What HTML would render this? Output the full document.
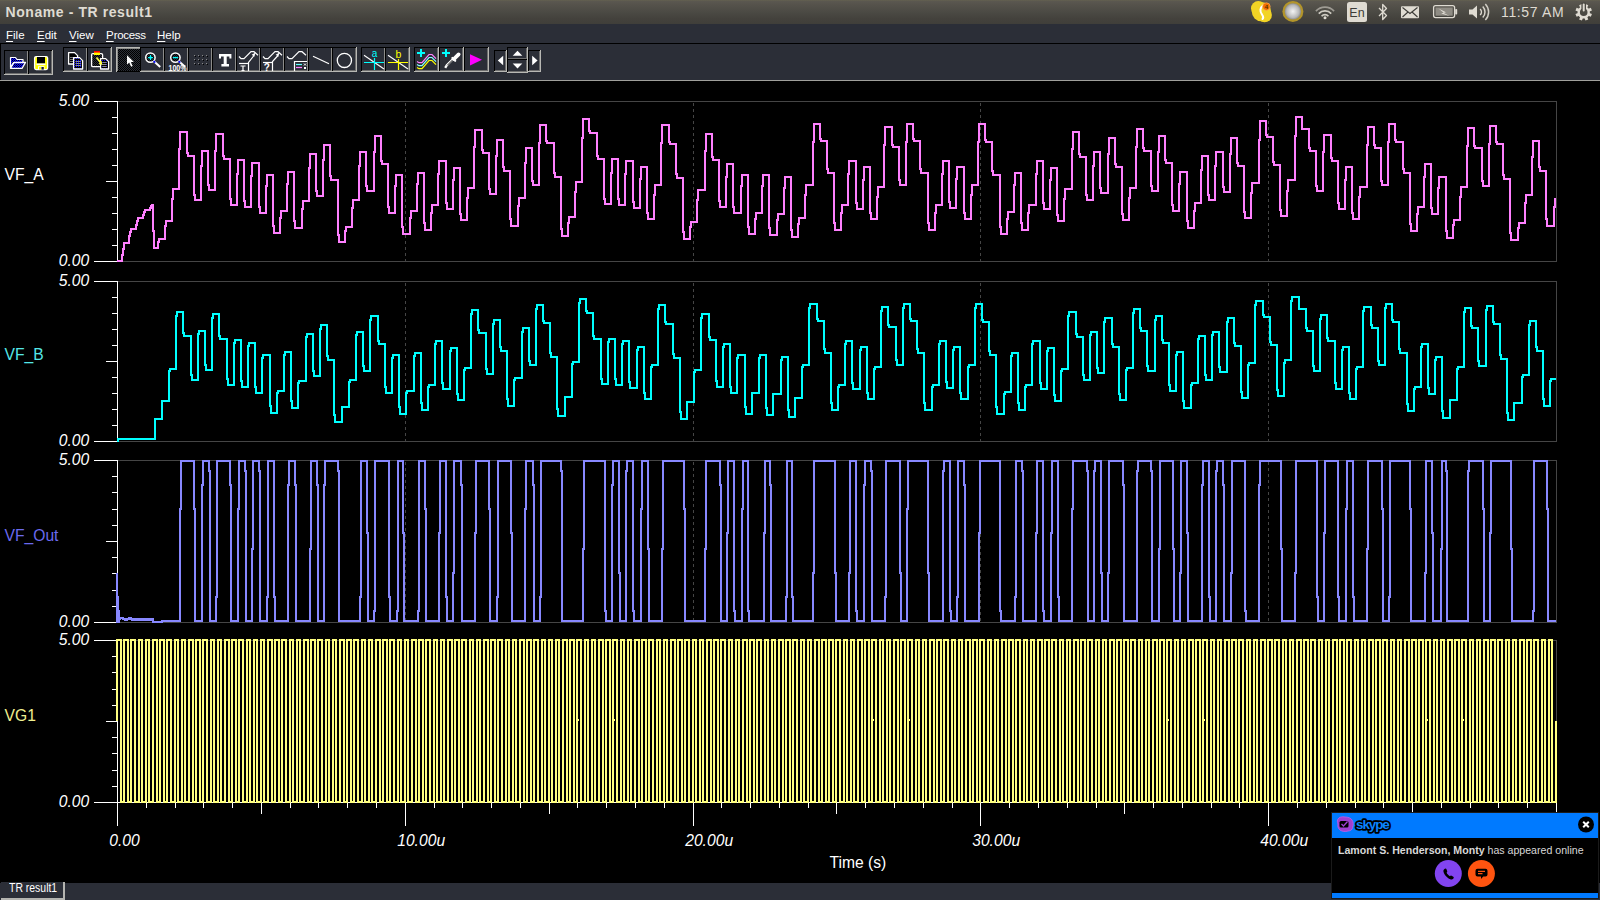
<!DOCTYPE html><html><head><meta charset="utf-8"><title>Noname - TR result1</title><style>
html,body{margin:0;padding:0;background:#000;}
body{width:1600px;height:900px;overflow:hidden;position:relative;font-family:"Liberation Sans",sans-serif;}
.abs{position:absolute;}
#title{left:0;top:0;width:1600px;height:24px;background:linear-gradient(#66634f 0,#5b5850 1px,#55524b 5px,#4b4a44 12px,#43413c 19px,#403f3a 24px);}
#ttext{left:5.5px;top:3.4px;font-weight:bold;font-size:14px;color:#dfdbd2;white-space:nowrap;line-height:18px;letter-spacing:0.58px;}
#clock{left:1501px;top:3px;font-size:14px;color:#dfdbd2;white-space:nowrap;line-height:18px;letter-spacing:0.65px;}
#menu{left:0;top:24px;width:1600px;height:19px;background:#2b2e37;}
.mi{position:absolute;top:5px;font-size:11.5px;line-height:12px;color:#fff;white-space:nowrap;}
.mi u{text-decoration:underline;text-decoration-thickness:1px;text-underline-offset:1.5px;}
#tbar{left:0;top:43px;width:1600px;height:38px;background:#2b2e37;border-top:1px solid #000;box-sizing:border-box;border-bottom:1px solid #a0a09c;}
#status{left:0;top:883px;width:1600px;height:17px;background:#2b2e37;}
#tab{left:1px;top:882px;width:62px;height:16px;background:#2b2e37;border-right:2px solid #b4b4b0;border-bottom:2px solid #b4b4b0;}
#tabt{left:9px;top:882px;font-size:12px;line-height:13px;color:#fff;white-space:nowrap;transform:scaleX(0.87);transform-origin:0 0;}
#sk{left:1331px;top:812px;width:268px;height:87px;background:#000;border:1px solid #1a1a1a;box-sizing:border-box;}
#skh{left:1332px;top:813px;width:266px;height:25px;background:#007aff;}
#skb{left:1332px;top:893px;width:266px;height:5px;background:#007aff;}
#skt{left:1338px;top:843px;font-size:10.6px;line-height:14px;color:#d8d8d8;white-space:nowrap;}
</style></head><body><svg id="plot" width="1600" height="900" viewBox="0 0 1600 900" style="position:absolute;left:0;top:0" shape-rendering="crispEdges"><g><rect x="118" y="101" width="1439" height="1" fill="#454545"/><rect x="118" y="261" width="1439" height="1" fill="#454545"/><rect x="1556" y="101" width="1" height="161" fill="#454545"/><line x1="405.5" y1="103" x2="405.5" y2="261" stroke="#454545" stroke-width="1" stroke-dasharray="3 3"/><line x1="693.5" y1="103" x2="693.5" y2="261" stroke="#454545" stroke-width="1" stroke-dasharray="3 3"/><line x1="980.5" y1="103" x2="980.5" y2="261" stroke="#454545" stroke-width="1" stroke-dasharray="3 3"/><line x1="1268.5" y1="103" x2="1268.5" y2="261" stroke="#454545" stroke-width="1" stroke-dasharray="3 3"/><rect x="118" y="281" width="1439" height="1" fill="#454545"/><rect x="118" y="441" width="1439" height="1" fill="#454545"/><rect x="1556" y="281" width="1" height="161" fill="#454545"/><line x1="405.5" y1="283" x2="405.5" y2="441" stroke="#454545" stroke-width="1" stroke-dasharray="3 3"/><line x1="693.5" y1="283" x2="693.5" y2="441" stroke="#454545" stroke-width="1" stroke-dasharray="3 3"/><line x1="980.5" y1="283" x2="980.5" y2="441" stroke="#454545" stroke-width="1" stroke-dasharray="3 3"/><line x1="1268.5" y1="283" x2="1268.5" y2="441" stroke="#454545" stroke-width="1" stroke-dasharray="3 3"/><rect x="118" y="460" width="1439" height="1" fill="#454545"/><rect x="118" y="622" width="1439" height="1" fill="#454545"/><rect x="1556" y="460" width="1" height="163" fill="#454545"/><line x1="405.5" y1="462" x2="405.5" y2="622" stroke="#454545" stroke-width="1" stroke-dasharray="3 3"/><line x1="693.5" y1="462" x2="693.5" y2="622" stroke="#454545" stroke-width="1" stroke-dasharray="3 3"/><line x1="980.5" y1="462" x2="980.5" y2="622" stroke="#454545" stroke-width="1" stroke-dasharray="3 3"/><line x1="1268.5" y1="462" x2="1268.5" y2="622" stroke="#454545" stroke-width="1" stroke-dasharray="3 3"/><rect x="118" y="640" width="1439" height="1" fill="#454545"/><rect x="118" y="802" width="1439" height="1" fill="#454545"/><rect x="1556" y="640" width="1" height="163" fill="#454545"/><line x1="405.5" y1="642" x2="405.5" y2="802" stroke="#454545" stroke-width="1" stroke-dasharray="3 3"/><line x1="693.5" y1="642" x2="693.5" y2="802" stroke="#454545" stroke-width="1" stroke-dasharray="3 3"/><line x1="980.5" y1="642" x2="980.5" y2="802" stroke="#454545" stroke-width="1" stroke-dasharray="3 3"/><line x1="1268.5" y1="642" x2="1268.5" y2="802" stroke="#454545" stroke-width="1" stroke-dasharray="3 3"/><rect x="117" y="101" width="1" height="161" fill="#fff"/><rect x="94" y="101" width="23" height="1" fill="#fff"/><rect x="112" y="117" width="5" height="1" fill="#fff"/><rect x="112" y="133" width="5" height="1" fill="#fff"/><rect x="112" y="149" width="5" height="1" fill="#fff"/><rect x="112" y="165" width="5" height="1" fill="#fff"/><rect x="106" y="181" width="11" height="1" fill="#fff"/><rect x="112" y="197" width="5" height="1" fill="#fff"/><rect x="112" y="213" width="5" height="1" fill="#fff"/><rect x="112" y="229" width="5" height="1" fill="#fff"/><rect x="112" y="245" width="5" height="1" fill="#fff"/><rect x="94" y="261" width="23" height="1" fill="#fff"/><rect x="117" y="281" width="1" height="161" fill="#fff"/><rect x="94" y="281" width="23" height="1" fill="#fff"/><rect x="112" y="297" width="5" height="1" fill="#fff"/><rect x="112" y="313" width="5" height="1" fill="#fff"/><rect x="112" y="329" width="5" height="1" fill="#fff"/><rect x="112" y="345" width="5" height="1" fill="#fff"/><rect x="106" y="361" width="11" height="1" fill="#fff"/><rect x="112" y="377" width="5" height="1" fill="#fff"/><rect x="112" y="393" width="5" height="1" fill="#fff"/><rect x="112" y="409" width="5" height="1" fill="#fff"/><rect x="112" y="425" width="5" height="1" fill="#fff"/><rect x="94" y="441" width="23" height="1" fill="#fff"/><rect x="117" y="460" width="1" height="163" fill="#fff"/><rect x="94" y="460" width="23" height="1" fill="#fff"/><rect x="112" y="476" width="5" height="1" fill="#fff"/><rect x="112" y="492" width="5" height="1" fill="#fff"/><rect x="112" y="509" width="5" height="1" fill="#fff"/><rect x="112" y="525" width="5" height="1" fill="#fff"/><rect x="106" y="541" width="11" height="1" fill="#fff"/><rect x="112" y="557" width="5" height="1" fill="#fff"/><rect x="112" y="573" width="5" height="1" fill="#fff"/><rect x="112" y="590" width="5" height="1" fill="#fff"/><rect x="112" y="606" width="5" height="1" fill="#fff"/><rect x="94" y="622" width="23" height="1" fill="#fff"/><rect x="117" y="640" width="1" height="163" fill="#fff"/><rect x="94" y="640" width="23" height="1" fill="#fff"/><rect x="112" y="656" width="5" height="1" fill="#fff"/><rect x="112" y="672" width="5" height="1" fill="#fff"/><rect x="112" y="689" width="5" height="1" fill="#fff"/><rect x="112" y="705" width="5" height="1" fill="#fff"/><rect x="106" y="721" width="11" height="1" fill="#fff"/><rect x="112" y="737" width="5" height="1" fill="#fff"/><rect x="112" y="753" width="5" height="1" fill="#fff"/><rect x="112" y="770" width="5" height="1" fill="#fff"/><rect x="112" y="786" width="5" height="1" fill="#fff"/><rect x="94" y="802" width="23" height="1" fill="#fff"/><rect x="117" y="802" width="1440" height="1" fill="#fff"/><rect x="117" y="802" width="1" height="24" fill="#fff"/><rect x="117" y="803" width="1" height="23" fill="#fff"/><rect x="146" y="803" width="1" height="5" fill="#fff"/><rect x="175" y="803" width="1" height="5" fill="#fff"/><rect x="203" y="803" width="1" height="5" fill="#fff"/><rect x="232" y="803" width="1" height="5" fill="#fff"/><rect x="261" y="803" width="1" height="11" fill="#fff"/><rect x="290" y="803" width="1" height="5" fill="#fff"/><rect x="318" y="803" width="1" height="5" fill="#fff"/><rect x="347" y="803" width="1" height="5" fill="#fff"/><rect x="376" y="803" width="1" height="5" fill="#fff"/><rect x="405" y="803" width="1" height="23" fill="#fff"/><rect x="434" y="803" width="1" height="5" fill="#fff"/><rect x="462" y="803" width="1" height="5" fill="#fff"/><rect x="491" y="803" width="1" height="5" fill="#fff"/><rect x="520" y="803" width="1" height="5" fill="#fff"/><rect x="549" y="803" width="1" height="11" fill="#fff"/><rect x="577" y="803" width="1" height="5" fill="#fff"/><rect x="606" y="803" width="1" height="5" fill="#fff"/><rect x="635" y="803" width="1" height="5" fill="#fff"/><rect x="664" y="803" width="1" height="5" fill="#fff"/><rect x="693" y="803" width="1" height="23" fill="#fff"/><rect x="721" y="803" width="1" height="5" fill="#fff"/><rect x="750" y="803" width="1" height="5" fill="#fff"/><rect x="779" y="803" width="1" height="5" fill="#fff"/><rect x="808" y="803" width="1" height="5" fill="#fff"/><rect x="836" y="803" width="1" height="11" fill="#fff"/><rect x="865" y="803" width="1" height="5" fill="#fff"/><rect x="894" y="803" width="1" height="5" fill="#fff"/><rect x="923" y="803" width="1" height="5" fill="#fff"/><rect x="952" y="803" width="1" height="5" fill="#fff"/><rect x="980" y="803" width="1" height="23" fill="#fff"/><rect x="1009" y="803" width="1" height="5" fill="#fff"/><rect x="1038" y="803" width="1" height="5" fill="#fff"/><rect x="1067" y="803" width="1" height="5" fill="#fff"/><rect x="1096" y="803" width="1" height="5" fill="#fff"/><rect x="1124" y="803" width="1" height="11" fill="#fff"/><rect x="1153" y="803" width="1" height="5" fill="#fff"/><rect x="1182" y="803" width="1" height="5" fill="#fff"/><rect x="1211" y="803" width="1" height="5" fill="#fff"/><rect x="1239" y="803" width="1" height="5" fill="#fff"/><rect x="1268" y="803" width="1" height="23" fill="#fff"/><rect x="1297" y="803" width="1" height="5" fill="#fff"/><rect x="1326" y="803" width="1" height="5" fill="#fff"/><rect x="1355" y="803" width="1" height="5" fill="#fff"/><rect x="1383" y="803" width="1" height="5" fill="#fff"/><rect x="1412" y="803" width="1" height="11" fill="#fff"/><rect x="1441" y="803" width="1" height="5" fill="#fff"/><rect x="1470" y="803" width="1" height="5" fill="#fff"/><rect x="1498" y="803" width="1" height="5" fill="#fff"/><rect x="1527" y="803" width="1" height="5" fill="#fff"/><rect x="1556" y="803" width="1" height="23" fill="#fff"/></g><g><polyline points="117,261 122,261 122,255 123,255 123,249 124,249 124,243 129,243 129,236 130,236 130,232 131,232 131,229 136,229 136,225 137,225 137,221 138,221 138,218 143,218 143,215 144,215 144,212 145,212 145,210 150,210 150,208 151,208 151,206 152,206 152,205 153,205 153,231 154,231 154,248 158,248 158,242 159,242 159,239 165,239 165,226 166,226 166,221 172,221 172,199 173,199 173,189 179,189 179,149 180,149 180,132 187,132 187,153 188,153 188,156 194,156 194,195 195,195 195,200 201,200 201,166 202,166 202,151 208,151 208,185 209,185 209,190 215,190 215,151 216,151 216,134 223,134 223,156 224,156 224,159 230,159 230,199 231,199 231,205 237,205 237,174 238,174 238,160 244,160 244,201 245,201 245,207 251,207 251,176 252,176 252,163 259,163 259,207 260,207 260,213 266,213 266,186 267,186 267,175 273,175 273,226 274,226 274,233 280,233 280,218 281,218 281,211 287,211 287,184 288,184 288,172 294,172 294,221 295,221 295,228 302,228 302,209 303,209 303,201 309,201 309,168 310,168 310,154 316,154 316,191 317,191 317,196 323,196 323,160 324,160 324,145 330,145 330,176 331,176 331,180 338,180 338,235 339,235 339,242 345,242 345,231 346,231 346,227 352,227 352,208 353,208 353,200 359,200 359,166 360,166 360,152 366,152 366,186 367,186 367,191 374,191 374,152 375,152 375,136 381,136 381,161 382,161 382,164 388,164 388,207 389,207 389,213 395,213 395,186 396,186 396,175 402,175 402,227 403,227 403,234 410,234 410,218 411,218 411,211 417,211 417,184 418,184 418,173 424,173 424,223 425,223 425,230 431,230 431,213 432,213 432,205 438,205 438,174 439,174 439,161 446,161 446,203 447,203 447,209 453,209 453,180 454,180 454,168 460,168 460,214 461,214 461,220 467,220 467,198 468,198 468,188 474,188 474,147 475,147 475,130 482,130 482,150 483,150 483,153 489,153 489,189 490,189 490,194 496,194 496,156 497,156 497,140 503,140 503,167 504,167 504,171 510,171 510,219 511,219 511,226 518,226 518,206 519,206 519,198 525,198 525,163 526,163 526,148 532,148 532,181 533,181 533,185 539,185 539,143 540,143 540,125 546,125 546,141 547,141 547,143 554,143 554,173 555,173 555,177 561,177 561,229 562,229 562,236 568,236 568,223 569,223 569,217 575,217 575,192 576,192 576,182 582,182 582,138 583,138 583,119 589,119 589,131 590,131 590,133 597,133 597,156 598,156 598,159 604,159 604,199 605,199 605,204 611,204 611,173 612,173 612,159 618,159 618,199 619,199 619,205 625,205 625,174 626,174 626,161 633,161 633,202 634,202 634,208 640,208 640,179 641,179 641,167 647,167 647,213 648,213 648,219 654,219 654,195 655,195 655,185 661,185 661,143 662,143 662,125 669,125 669,142 670,142 670,144 676,144 676,174 677,174 677,178 683,178 683,232 684,232 684,239 690,239 690,227 691,227 691,222 697,222 697,200 698,200 698,190 705,190 705,151 706,151 706,134 712,134 712,157 713,157 713,160 719,160 719,201 720,201 720,207 726,207 726,177 727,177 727,164 733,164 733,207 734,207 734,213 741,213 741,186 742,186 742,175 748,175 748,227 749,227 749,234 755,234 755,219 756,219 756,213 762,213 762,186 763,186 763,175 769,175 769,228 770,228 770,235 777,235 777,220 778,220 778,214 784,214 784,188 785,188 785,177 791,177 791,230 792,230 792,237 798,237 798,224 799,224 799,218 805,218 805,195 806,195 806,185 813,185 813,142 814,142 814,124 820,124 820,139 821,139 821,141 827,141 827,169 828,169 828,173 834,173 834,223 835,223 835,230 841,230 841,213 842,213 842,205 848,205 848,174 849,174 849,161 856,161 856,203 857,203 857,209 863,209 863,180 864,180 864,167 870,167 870,213 871,213 871,219 877,219 877,197 878,197 878,187 884,187 884,145 885,145 885,127 892,127 892,145 893,145 893,147 899,147 899,180 900,180 900,185 906,185 906,142 907,142 907,124 913,124 913,139 914,139 914,141 920,141 920,169 921,169 921,173 928,173 928,223 929,223 929,230 935,230 935,213 936,213 936,205 942,205 942,174 943,174 943,161 949,161 949,202 950,202 950,208 956,208 956,179 957,179 957,167 964,167 964,213 965,213 965,219 971,219 971,195 972,195 972,185 978,185 978,142 979,142 979,124 985,124 985,140 986,140 986,142 992,142 992,171 993,171 993,175 1000,175 1000,227 1001,227 1001,234 1007,234 1007,219 1008,219 1008,212 1014,212 1014,185 1015,185 1015,173 1021,173 1021,223 1022,223 1022,230 1028,230 1028,213 1029,213 1029,205 1036,205 1036,174 1037,174 1037,161 1043,161 1043,203 1044,203 1044,209 1050,209 1050,180 1051,180 1051,168 1057,168 1057,215 1058,215 1058,221 1064,221 1064,199 1065,199 1065,189 1072,189 1072,149 1073,149 1073,132 1079,132 1079,154 1080,154 1080,157 1086,157 1086,195 1087,195 1087,200 1093,200 1093,166 1094,166 1094,152 1100,152 1100,188 1101,188 1101,193 1108,193 1108,154 1109,154 1109,138 1115,138 1115,164 1116,164 1116,167 1122,167 1122,214 1123,214 1123,220 1129,220 1129,198 1130,198 1130,188 1136,188 1136,147 1137,147 1137,129 1143,129 1143,148 1144,148 1144,151 1151,151 1151,186 1152,186 1152,191 1158,191 1158,152 1159,152 1159,136 1165,136 1165,160 1166,160 1166,163 1172,163 1172,205 1173,205 1173,211 1179,211 1179,184 1180,184 1180,172 1187,172 1187,221 1188,221 1188,228 1194,228 1194,211 1195,211 1195,203 1201,203 1201,170 1202,170 1202,156 1208,156 1208,195 1209,195 1209,200 1215,200 1215,166 1216,166 1216,152 1223,152 1223,187 1224,187 1224,192 1230,192 1230,154 1231,154 1231,138 1237,138 1237,163 1238,163 1238,166 1244,166 1244,212 1245,212 1245,218 1251,218 1251,193 1252,193 1252,183 1259,183 1259,140 1260,140 1260,121 1266,121 1266,135 1267,135 1267,137 1273,137 1273,162 1274,162 1274,165 1280,165 1280,210 1281,210 1281,216 1287,216 1287,191 1288,191 1288,180 1295,180 1295,136 1296,136 1296,117 1302,117 1302,129 1309,129 1309,148 1310,148 1310,151 1316,151 1316,186 1317,186 1317,191 1323,191 1323,152 1324,152 1324,135 1331,135 1331,158 1332,158 1332,161 1338,161 1338,203 1339,203 1339,209 1345,209 1345,180 1346,180 1346,167 1352,167 1352,213 1353,213 1353,219 1359,219 1359,197 1360,197 1360,187 1367,187 1367,145 1368,145 1368,127 1374,127 1374,145 1375,145 1375,148 1381,148 1381,181 1382,181 1382,185 1388,185 1388,142 1389,142 1389,124 1395,124 1395,140 1396,140 1396,142 1403,142 1403,169 1404,169 1404,173 1410,173 1410,224 1411,224 1411,231 1417,231 1417,214 1418,214 1418,207 1424,207 1424,177 1425,177 1425,164 1431,164 1431,208 1432,208 1432,214 1438,214 1438,188 1439,188 1439,177 1446,177 1446,231 1447,231 1447,238 1453,238 1453,225 1454,225 1454,220 1460,220 1460,197 1461,197 1461,187 1467,187 1467,146 1468,146 1468,128 1474,128 1474,146 1475,146 1475,148 1482,148 1482,181 1483,181 1483,186 1489,186 1489,144 1490,144 1490,126 1496,126 1496,142 1497,142 1497,144 1503,144 1503,175 1504,175 1504,179 1510,179 1510,233 1511,233 1511,240 1518,240 1518,228 1519,228 1519,223 1525,223 1525,203 1526,203 1526,195 1532,195 1532,157 1533,157 1533,141 1539,141 1539,167 1540,167 1540,171 1546,171 1546,219 1547,219 1547,226 1554,226 1554,207 1555,207 1555,199 1556,199" fill="none" stroke="#ff80ff" stroke-width="2" stroke-linejoin="miter" stroke-linecap="butt"/><polyline points="117,441 118,441 118,439 155,439 155,419 162,419 162,401 169,401 169,371 170,371 170,369 176,369 176,316 177,316 177,312 183,312 183,333 184,333 184,336 191,336 191,375 192,375 192,380 198,380 198,334 199,334 199,331 205,331 205,365 206,365 206,370 212,370 212,318 213,318 213,314 219,314 219,336 220,336 220,339 227,339 227,379 228,379 228,385 234,385 234,343 235,343 235,340 241,340 241,381 242,381 242,387 248,387 248,346 249,346 249,343 255,343 255,387 256,387 256,393 262,393 262,358 263,358 263,355 270,355 270,406 271,406 271,413 277,413 277,393 278,393 278,391 284,391 284,355 285,355 285,352 291,352 291,401 292,401 292,408 298,408 298,383 299,383 299,381 306,381 306,337 307,337 307,334 313,334 313,371 314,371 314,376 320,376 320,329 321,329 321,325 327,325 327,356 328,356 328,360 334,360 334,415 335,415 335,422 342,422 342,407 349,407 349,382 350,382 350,380 356,380 356,335 357,335 357,332 363,332 363,366 364,366 364,371 370,371 370,320 371,320 371,316 378,316 378,341 379,341 379,344 385,344 385,387 386,387 386,393 392,393 392,358 393,358 393,355 399,355 399,407 400,407 400,414 406,414 406,393 407,393 407,391 414,391 414,356 415,356 415,353 421,353 421,403 422,403 422,410 428,410 428,387 429,387 429,385 435,385 435,344 436,344 436,341 442,341 442,383 443,383 443,389 450,389 450,351 451,351 451,348 457,348 457,394 458,394 458,400 464,400 464,370 465,370 465,368 471,368 471,314 472,314 472,310 478,310 478,330 479,330 479,333 486,333 486,369 487,369 487,374 493,374 493,324 494,324 494,320 500,320 500,347 501,347 501,351 507,351 507,399 508,399 508,406 514,406 514,380 515,380 515,378 522,378 522,332 523,332 523,328 529,328 529,361 530,361 530,365 536,365 536,309 537,309 537,305 543,305 543,321 544,321 544,323 550,323 550,353 551,353 551,357 557,357 557,409 558,409 558,416 565,416 565,397 572,397 572,364 573,364 573,362 579,362 579,303 580,303 580,299 586,299 586,311 587,311 587,313 593,313 593,336 594,336 594,339 601,339 601,379 602,379 602,384 608,384 608,342 609,342 609,339 615,339 615,379 616,379 616,385 622,385 622,344 623,344 623,341 629,341 629,382 630,382 630,388 637,388 637,350 638,350 638,347 644,347 644,393 645,393 645,399 651,399 651,367 652,367 652,365 658,365 658,309 659,309 659,305 665,305 665,322 666,322 666,324 673,324 673,354 674,354 674,358 680,358 680,412 681,412 681,419 687,419 687,402 694,402 694,372 695,372 695,370 701,370 701,318 702,318 702,314 709,314 709,337 710,337 710,340 716,340 716,381 717,381 717,387 723,387 723,347 724,347 724,344 730,344 730,387 731,387 731,393 737,393 737,358 738,358 738,355 745,355 745,407 746,407 746,414 752,414 752,393 759,393 759,358 760,358 760,355 766,355 766,408 767,408 767,415 773,415 773,394 781,394 781,360 782,360 782,357 788,357 788,410 789,410 789,417 795,417 795,398 802,398 802,367 803,367 803,365 809,365 809,308 810,308 810,304 817,304 817,319 818,319 818,321 824,321 824,349 825,349 825,353 831,353 831,403 832,403 832,410 838,410 838,387 839,387 839,385 845,385 845,344 846,344 846,341 852,341 852,383 853,383 853,389 860,389 860,350 861,350 861,347 867,347 867,393 868,393 868,399 874,399 874,369 875,369 875,367 881,367 881,311 882,311 882,307 888,307 888,325 889,325 889,327 896,327 896,360 897,360 897,365 903,365 903,308 904,308 904,304 910,304 910,319 911,319 911,321 917,321 917,349 918,349 918,353 924,353 924,403 925,403 925,410 932,410 932,387 933,387 933,385 939,385 939,344 940,344 940,341 946,341 946,382 947,382 947,388 953,388 953,350 954,350 954,347 960,347 960,393 961,393 961,399 968,399 968,367 969,367 969,365 975,365 975,308 976,308 976,304 982,304 982,320 983,320 983,322 989,322 989,351 990,351 990,355 996,355 996,407 997,407 997,414 1004,414 1004,394 1005,394 1005,392 1011,392 1011,356 1012,356 1012,353 1018,353 1018,403 1019,403 1019,410 1025,410 1025,387 1026,387 1026,385 1032,385 1032,344 1033,344 1033,341 1040,341 1040,383 1041,383 1041,389 1047,389 1047,351 1048,351 1048,348 1054,348 1054,395 1055,395 1055,401 1061,401 1061,371 1062,371 1062,369 1068,369 1068,316 1069,316 1069,312 1076,312 1076,334 1077,334 1077,337 1083,337 1083,375 1084,375 1084,380 1090,380 1090,335 1091,335 1091,332 1097,332 1097,368 1098,368 1098,373 1104,373 1104,322 1105,322 1105,318 1112,318 1112,344 1113,344 1113,347 1119,347 1119,394 1120,394 1120,400 1126,400 1126,370 1127,370 1127,368 1133,368 1133,313 1134,313 1134,309 1140,309 1140,328 1141,328 1141,331 1147,331 1147,366 1148,366 1148,371 1155,371 1155,320 1156,320 1156,316 1162,316 1162,340 1163,340 1163,343 1169,343 1169,385 1170,385 1170,391 1176,391 1176,355 1177,355 1177,352 1183,352 1183,401 1184,401 1184,408 1191,408 1191,385 1192,385 1192,383 1198,383 1198,339 1199,339 1199,336 1205,336 1205,375 1206,375 1206,380 1212,380 1212,335 1213,335 1213,332 1219,332 1219,367 1220,367 1220,372 1227,372 1227,322 1228,322 1228,318 1234,318 1234,343 1235,343 1235,346 1241,346 1241,392 1242,392 1242,398 1248,398 1248,365 1249,365 1249,363 1255,363 1255,305 1256,305 1256,301 1263,301 1263,315 1264,315 1264,317 1270,317 1270,342 1271,342 1271,345 1277,345 1277,390 1278,390 1278,396 1284,396 1284,363 1285,363 1285,360 1291,360 1291,301 1292,301 1292,297 1299,297 1299,309 1306,309 1306,328 1307,328 1307,331 1313,331 1313,366 1314,366 1314,371 1320,371 1320,319 1321,319 1321,315 1327,315 1327,338 1328,338 1328,341 1335,341 1335,383 1336,383 1336,389 1342,389 1342,350 1343,350 1343,347 1349,347 1349,393 1350,393 1350,399 1356,399 1356,369 1357,369 1357,367 1363,367 1363,311 1364,311 1364,307 1371,307 1371,325 1372,325 1372,328 1378,328 1378,361 1379,361 1379,365 1385,365 1385,308 1386,308 1386,304 1392,304 1392,320 1393,320 1393,322 1399,322 1399,349 1400,349 1400,353 1407,353 1407,404 1408,404 1408,411 1414,411 1414,389 1415,389 1415,387 1421,387 1421,347 1422,347 1422,344 1428,344 1428,388 1429,388 1429,394 1435,394 1435,360 1436,360 1436,357 1442,357 1442,411 1443,411 1443,418 1450,418 1450,400 1457,400 1457,369 1458,369 1458,367 1464,367 1464,312 1465,312 1465,308 1471,308 1471,326 1472,326 1472,328 1478,328 1478,361 1479,361 1479,366 1486,366 1486,310 1487,310 1487,306 1493,306 1493,322 1494,322 1494,324 1500,324 1500,355 1501,355 1501,359 1507,359 1507,413 1508,413 1508,420 1514,420 1514,403 1522,403 1522,377 1523,377 1523,375 1529,375 1529,325 1530,325 1530,321 1536,321 1536,347 1537,347 1537,351 1543,351 1543,399 1544,399 1544,406 1550,406 1550,381 1551,381 1551,379 1556,379" fill="none" stroke="#00ffff" stroke-width="2" stroke-linejoin="miter" stroke-linecap="butt"/><polyline points="117,573 117,622 118,622 118,596 118,622 119,622 119,610 119,619 120,619 120,618 121,618 122,618 123,618 123,619 124,619 125,619 125,620 126,620 127,620 127,619 128,619 129,619 129,618 130,618 131,618 131,619 132,619 132,620 133,620 134,620 134,619 135,619 136,619 136,620 137,620 138,620 138,619 139,619 140,619 140,620 141,620 142,620 142,619 143,619 144,619 144,620 145,620 146,620 146,619 147,619 148,619 148,620 149,620 150,620 150,619 151,619 152,619 152,620 153,620 153,619 154,619 153,619 153,622 162,622 162,621 180,621 180,509 181,509 181,461 194,461 194,509 195,509 195,621 202,621 202,485 203,485 203,461 209,461 209,471 210,471 210,621 216,621 216,597 217,597 217,461 230,461 230,485 231,485 231,621 238,621 238,509 239,509 239,461 245,461 245,471 246,471 246,621 252,621 252,549 253,549 253,461 259,461 259,471 260,471 260,621 267,621 267,597 268,597 268,461 274,461 274,597 275,597 275,621 288,621 288,485 289,485 289,461 295,461 295,485 296,485 296,621 310,621 310,549 311,549 311,461 317,461 317,485 318,485 318,621 324,621 324,485 325,485 325,461 338,461 338,471 339,471 339,621 360,621 360,597 361,597 361,461 367,461 367,533 368,533 368,621 374,621 374,611 375,611 375,461 389,461 389,597 390,597 390,621 397,621 397,611 398,611 398,461 403,461 403,533 404,533 404,621 418,621 418,611 419,611 419,461 425,461 425,509 426,509 426,621 439,621 439,533 440,533 440,461 446,461 446,597 447,597 447,621 453,621 453,573 454,573 454,461 461,461 461,485 462,485 462,621 475,621 475,533 476,533 476,461 489,461 489,509 490,509 490,621 497,621 497,597 498,597 498,461 511,461 511,533 512,533 512,621 525,621 525,509 526,509 526,461 533,461 533,485 534,485 534,621 540,621 540,597 541,597 541,461 561,461 561,471 562,471 562,621 583,621 583,549 584,549 584,461 605,461 605,611 606,611 606,621 612,621 612,485 613,485 613,461 619,461 619,573 620,573 620,621 626,621 626,471 627,471 627,461 633,461 633,611 634,611 634,621 641,621 641,509 642,509 642,461 648,461 648,549 649,549 649,621 662,621 662,549 663,549 663,461 684,461 684,509 685,509 685,621 705,621 705,549 706,549 706,461 720,461 720,485 721,485 721,621 727,621 727,533 728,533 728,461 734,461 734,611 735,611 735,621 742,621 742,509 743,509 743,461 748,461 748,611 749,611 749,621 764,621 764,533 765,533 765,461 770,461 770,485 771,485 771,621 786,621 786,597 787,597 787,461 792,461 792,597 793,597 793,621 813,621 813,573 814,573 814,461 835,461 835,573 836,573 836,621 849,621 849,573 850,573 850,461 856,461 856,611 857,611 857,621 864,621 864,485 865,485 865,461 871,461 871,471 872,471 872,621 885,621 885,597 886,597 886,461 900,461 900,573 901,573 901,621 907,621 907,509 908,509 908,461 928,461 928,573 929,573 929,621 943,621 943,471 944,471 944,461 950,461 950,611 951,611 951,621 957,621 957,597 958,597 958,461 964,461 964,485 965,485 965,621 979,621 979,533 980,533 980,461 1000,461 1000,611 1001,611 1001,621 1015,621 1015,597 1016,597 1016,461 1022,461 1022,471 1023,471 1023,621 1036,621 1036,533 1037,533 1037,461 1043,461 1043,611 1044,611 1044,621 1051,621 1051,533 1052,533 1052,461 1058,461 1058,597 1059,597 1059,621 1072,621 1072,509 1073,509 1073,461 1087,461 1087,471 1088,471 1088,621 1094,621 1094,471 1095,471 1095,461 1101,461 1101,573 1102,573 1102,621 1108,621 1108,573 1109,573 1109,461 1123,461 1123,485 1124,485 1124,621 1137,621 1137,471 1138,471 1138,461 1151,461 1151,471 1152,471 1152,621 1159,621 1159,549 1160,549 1160,461 1173,461 1173,549 1174,549 1174,621 1180,621 1180,573 1181,573 1181,461 1187,461 1187,533 1188,533 1188,621 1202,621 1202,485 1203,485 1203,461 1209,461 1209,597 1210,597 1210,621 1216,621 1216,471 1217,471 1217,461 1223,461 1223,485 1224,485 1224,621 1231,621 1231,573 1232,573 1232,461 1245,461 1245,611 1246,611 1246,621 1259,621 1259,485 1260,485 1260,461 1281,461 1281,549 1282,549 1282,621 1295,621 1295,573 1296,573 1296,461 1317,461 1317,597 1318,597 1318,621 1324,621 1324,533 1325,533 1325,461 1338,461 1338,597 1339,597 1339,621 1346,621 1346,509 1347,509 1347,461 1353,461 1353,597 1354,597 1354,621 1367,621 1367,549 1368,549 1368,461 1382,461 1382,509 1383,509 1383,621 1389,621 1389,597 1390,597 1390,461 1410,461 1410,509 1411,509 1411,621 1425,621 1425,573 1426,573 1426,461 1432,461 1432,533 1433,533 1433,621 1441,621 1441,549 1442,549 1442,461 1446,461 1446,471 1447,471 1447,621 1468,621 1468,471 1469,471 1469,461 1483,461 1483,509 1484,509 1484,621 1490,621 1490,533 1491,533 1491,461 1511,461 1511,549 1512,549 1512,621 1533,621 1533,611 1534,611 1534,461 1547,461 1547,509 1548,509 1548,621 1556,621" fill="none" stroke="#8888ff" stroke-width="2" stroke-linejoin="miter" stroke-linecap="butt"/><polyline points="117,721 117,640 121,640 121,802 124,802 124,640 128,640 128,802 131,802 131,640 135,640 135,802 139,802 139,640 142,640 142,802 146,802 146,640 149,640 149,802 153,802 153,640 157,640 157,802 160,802 160,640 164,640 164,802 167,802 167,640 171,640 171,802 175,802 175,640 178,640 178,802 182,802 182,640 185,640 185,802 189,802 189,640 193,640 193,802 196,802 196,640 200,640 200,802 203,802 203,640 207,640 207,802 211,802 211,640 214,640 214,802 218,802 218,640 221,640 221,802 225,802 225,640 229,640 229,802 232,802 232,640 236,640 236,802 239,802 239,640 243,640 243,802 247,802 247,640 250,640 250,802 254,802 254,640 257,640 257,802 261,802 261,640 264,640 264,802 268,802 268,640 272,640 272,802 275,802 275,640 279,640 279,802 282,802 282,640 286,640 286,802 290,802 290,640 293,640 293,802 297,802 297,640 300,640 300,802 304,802 304,640 308,640 308,802 311,802 311,640 315,640 315,802 318,802 318,640 322,640 322,802 326,802 326,640 329,640 329,802 333,802 333,640 336,640 336,802 340,802 340,640 344,640 344,802 347,802 347,640 351,640 351,802 354,802 354,640 358,640 358,802 362,802 362,640 365,640 365,802 369,802 369,640 372,640 372,802 376,802 376,640 380,640 380,802 383,802 383,640 387,640 387,802 390,802 390,640 394,640 394,802 398,802 398,640 401,640 401,802 405,802 405,640 408,640 408,802 412,802 412,640 416,640 416,802 419,802 419,640 423,640 423,802 426,802 426,640 430,640 430,802 434,802 434,640 437,640 437,802 441,802 441,640 444,640 444,802 448,802 448,640 452,640 452,802 455,802 455,640 459,640 459,802 462,802 462,640 466,640 466,802 470,802 470,640 473,640 473,802 477,802 477,640 480,640 480,802 484,802 484,640 488,640 488,802 491,802 491,640 495,640 495,802 498,802 498,640 502,640 502,802 506,802 506,640 509,640 509,802 513,802 513,640 516,640 516,802 520,802 520,640 524,640 524,802 527,802 527,640 531,640 531,802 534,802 534,640 538,640 538,802 542,802 542,640 545,640 545,802 549,802 549,640 552,640 552,802 556,802 556,640 559,640 559,802 563,802 563,640 567,640 567,802 570,802 570,640 574,640 574,802 577,802 577,640 581,640 581,802 585,802 585,640 588,640 588,802 592,802 592,640 595,640 595,802 599,802 599,640 603,640 603,802 606,802 606,640 610,640 610,802 613,802 613,640 617,640 617,802 621,802 621,640 624,640 624,802 628,802 628,640 631,640 631,802 635,802 635,640 639,640 639,802 642,802 642,640 646,640 646,802 649,802 649,640 653,640 653,802 657,802 657,640 660,640 660,802 664,802 664,640 667,640 667,802 671,802 671,640 675,640 675,802 678,802 678,640 682,640 682,802 685,802 685,640 689,640 689,802 693,802 693,640 696,640 696,802 700,802 700,640 703,640 703,802 707,802 707,640 711,640 711,802 714,802 714,640 718,640 718,802 721,802 721,640 725,640 725,802 729,802 729,640 732,640 732,802 736,802 736,640 739,640 739,802 743,802 743,640 747,640 747,802 750,802 750,640 754,640 754,802 757,802 757,640 761,640 761,802 765,802 765,640 768,640 768,802 772,802 772,640 775,640 775,802 779,802 779,640 783,640 783,802 786,802 786,640 790,640 790,802 793,802 793,640 797,640 797,802 801,802 801,640 804,640 804,802 808,802 808,640 811,640 811,802 815,802 815,640 819,640 819,802 822,802 822,640 826,640 826,802 829,802 829,640 833,640 833,802 836,802 836,640 840,640 840,802 844,802 844,640 847,640 847,802 851,802 851,640 854,640 854,802 858,802 858,640 862,640 862,802 865,802 865,640 869,640 869,802 872,802 872,640 876,640 876,802 880,802 880,640 883,640 883,802 887,802 887,640 890,640 890,802 894,802 894,640 898,640 898,802 901,802 901,640 905,640 905,802 908,802 908,640 912,640 912,802 916,802 916,640 919,640 919,802 923,802 923,640 926,640 926,802 930,802 930,640 934,640 934,802 937,802 937,640 941,640 941,802 944,802 944,640 948,640 948,802 952,802 952,640 955,640 955,802 959,802 959,640 962,640 962,802 966,802 966,640 970,640 970,802 973,802 973,640 977,640 977,802 980,802 980,640 984,640 984,802 988,802 988,640 991,640 991,802 995,802 995,640 998,640 998,802 1002,802 1002,640 1006,640 1006,802 1009,802 1009,640 1013,640 1013,802 1016,802 1016,640 1020,640 1020,802 1024,802 1024,640 1027,640 1027,802 1031,802 1031,640 1034,640 1034,802 1038,802 1038,640 1042,640 1042,802 1045,802 1045,640 1049,640 1049,802 1052,802 1052,640 1056,640 1056,802 1060,802 1060,640 1063,640 1063,802 1067,802 1067,640 1070,640 1070,802 1074,802 1074,640 1078,640 1078,802 1081,802 1081,640 1085,640 1085,802 1088,802 1088,640 1092,640 1092,802 1096,802 1096,640 1099,640 1099,802 1103,802 1103,640 1106,640 1106,802 1110,802 1110,640 1114,640 1114,802 1117,802 1117,640 1121,640 1121,802 1124,802 1124,640 1128,640 1128,802 1131,802 1131,640 1135,640 1135,802 1139,802 1139,640 1142,640 1142,802 1146,802 1146,640 1149,640 1149,802 1153,802 1153,640 1157,640 1157,802 1160,802 1160,640 1164,640 1164,802 1167,802 1167,640 1171,640 1171,802 1175,802 1175,640 1178,640 1178,802 1182,802 1182,640 1185,640 1185,802 1189,802 1189,640 1193,640 1193,802 1196,802 1196,640 1200,640 1200,802 1203,802 1203,640 1207,640 1207,802 1211,802 1211,640 1214,640 1214,802 1218,802 1218,640 1221,640 1221,802 1225,802 1225,640 1229,640 1229,802 1232,802 1232,640 1236,640 1236,802 1239,802 1239,640 1243,640 1243,802 1247,802 1247,640 1250,640 1250,802 1254,802 1254,640 1257,640 1257,802 1261,802 1261,640 1265,640 1265,802 1268,802 1268,640 1272,640 1272,802 1275,802 1275,640 1279,640 1279,802 1283,802 1283,640 1286,640 1286,802 1290,802 1290,640 1293,640 1293,802 1297,802 1297,640 1301,640 1301,802 1304,802 1304,640 1308,640 1308,802 1311,802 1311,640 1315,640 1315,802 1319,802 1319,640 1322,640 1322,802 1326,802 1326,640 1329,640 1329,802 1333,802 1333,640 1337,640 1337,802 1340,802 1340,640 1344,640 1344,802 1347,802 1347,640 1351,640 1351,802 1355,802 1355,640 1358,640 1358,802 1362,802 1362,640 1365,640 1365,802 1369,802 1369,640 1373,640 1373,802 1376,802 1376,640 1380,640 1380,802 1383,802 1383,640 1387,640 1387,802 1391,802 1391,640 1394,640 1394,802 1398,802 1398,640 1401,640 1401,802 1405,802 1405,640 1409,640 1409,802 1412,802 1412,640 1416,640 1416,802 1419,802 1419,640 1423,640 1423,802 1426,802 1426,640 1430,640 1430,802 1434,802 1434,640 1437,640 1437,802 1441,802 1441,640 1444,640 1444,802 1448,802 1448,640 1452,640 1452,802 1455,802 1455,640 1459,640 1459,802 1462,802 1462,640 1466,640 1466,802 1470,802 1470,640 1473,640 1473,802 1477,802 1477,640 1480,640 1480,802 1484,802 1484,640 1488,640 1488,802 1491,802 1491,640 1495,640 1495,802 1498,802 1498,640 1502,640 1502,802 1506,802 1506,640 1509,640 1509,802 1513,802 1513,640 1516,640 1516,802 1520,802 1520,640 1524,640 1524,802 1527,802 1527,640 1531,640 1531,802 1534,802 1534,640 1538,640 1538,802 1542,802 1542,640 1545,640 1545,802 1549,802 1549,640 1552,640 1552,802 1556,802 1556,721" fill="none" stroke="#ffff80" stroke-width="2" stroke-linejoin="miter" stroke-linecap="butt"/><rect x="281" y="719" width="2" height="2" fill="#ffff80"/><rect x="317" y="719" width="2" height="2" fill="#ffff80"/><rect x="577" y="719" width="2" height="2" fill="#ffff80"/><rect x="613" y="719" width="2" height="2" fill="#ffff80"/><rect x="835" y="719" width="2" height="2" fill="#ffff80"/><rect x="872" y="719" width="2" height="2" fill="#ffff80"/><rect x="908" y="719" width="2" height="2" fill="#ffff80"/><rect x="1130" y="719" width="2" height="2" fill="#ffff80"/><rect x="1167" y="719" width="2" height="2" fill="#ffff80"/><rect x="1203" y="719" width="2" height="2" fill="#ffff80"/><rect x="1426" y="719" width="2" height="2" fill="#ffff80"/><rect x="1462" y="719" width="2" height="2" fill="#ffff80"/></g><g font-family="Liberation Sans, sans-serif" font-size="16.5" fill="#fff" shape-rendering="auto"><text transform="translate(89.2,106) scale(0.95,1)" font-style="italic" text-anchor="end">5.00</text><text transform="translate(89.2,266) scale(0.95,1)" font-style="italic" text-anchor="end">0.00</text><text transform="translate(89.2,286) scale(0.95,1)" font-style="italic" text-anchor="end">5.00</text><text transform="translate(89.2,446) scale(0.95,1)" font-style="italic" text-anchor="end">0.00</text><text transform="translate(89.2,465) scale(0.95,1)" font-style="italic" text-anchor="end">5.00</text><text transform="translate(89.2,627) scale(0.95,1)" font-style="italic" text-anchor="end">0.00</text><text transform="translate(89.2,645) scale(0.95,1)" font-style="italic" text-anchor="end">5.00</text><text transform="translate(89.2,807) scale(0.95,1)" font-style="italic" text-anchor="end">0.00</text><text transform="translate(109.2,846) scale(0.95,1)" font-style="italic" text-anchor="start">0.00</text><text transform="translate(397.2,846) scale(0.95,1)" font-style="italic" text-anchor="start">10.00u</text><text transform="translate(685.2,846) scale(0.95,1)" font-style="italic" text-anchor="start">20.00u</text><text transform="translate(972.2,846) scale(0.95,1)" font-style="italic" text-anchor="start">30.00u</text><text transform="translate(1260.2,846) scale(0.95,1)" font-style="italic" text-anchor="start">40.00u</text><text transform="translate(4.5,180) scale(0.95,1)" fill="#ffffff">VF_A</text><text transform="translate(4.5,360) scale(0.95,1)" fill="#55e8e8">VF_B</text><text transform="translate(4.5,541) scale(0.95,1)" fill="#6a6aee">VF_Out</text><text transform="translate(4.5,721) scale(0.95,1)" fill="#f0f090">VG1</text><text transform="translate(829.5,868) scale(0.95,1)">Time (s)</text></g></svg><div id="title" class="abs"></div><div id="ttext" class="abs">Noname - TR result1</div><div id="clock" class="abs">11:57 AM</div><div id="menu" class="abs"></div><div class="mi" style="left:6px;top:29px"><u>F</u>ile</div><div class="mi" style="left:37px;top:29px"><u>E</u>dit</div><div class="mi" style="left:69px;top:29px"><u>V</u>iew</div><div class="mi" style="left:106px;top:29px"><u>P</u><span style="letter-spacing:-0.3px">rocess</span></div><div class="mi" style="left:157px;top:29px"><u>H</u>elp</div><div id="tbar" class="abs"></div><div class="abs" style="left:0;top:44px;width:1px;height:36px;background:#000"></div><svg class="abs" style="left:0;top:0" width="1600" height="81" viewBox="0 0 1600 81" shape-rendering="crispEdges"><defs><pattern id="chk" width="2" height="2" patternUnits="userSpaceOnUse"><rect width="2" height="2" fill="#2b2e37"/><rect width="1" height="1" fill="#000"/><rect x="1" y="1" width="1" height="1" fill="#000"/></pattern><pattern id="dblue" width="2" height="2" patternUnits="userSpaceOnUse"><rect width="2" height="2" fill="#0000ff"/><rect width="1" height="1" fill="#000"/><rect x="1" y="1" width="1" height="1" fill="#000060"/></pattern><pattern id="dotb" width="2" height="2" patternUnits="userSpaceOnUse"><rect width="2" height="2" fill="#000"/><rect width="1" height="1" fill="#0000ff"/></pattern></defs><rect x="4" y="50" width="24" height="25" fill="#2b2e37"/><rect x="4" y="50" width="24" height="1" fill="#000"/><rect x="4" y="50" width="1" height="24" fill="#000"/><rect x="5" y="73" width="23" height="1" fill="#6e6e6e"/><rect x="4" y="74" width="24" height="1" fill="#b8b8b4"/><rect x="27" y="51" width="1" height="23" fill="#8c8c8a"/><rect x="28" y="50" width="25" height="25" fill="#2b2e37"/><rect x="28" y="50" width="25" height="1" fill="#000"/><rect x="28" y="50" width="1" height="24" fill="#000"/><rect x="29" y="73" width="24" height="1" fill="#6e6e6e"/><rect x="28" y="74" width="25" height="1" fill="#b8b8b4"/><rect x="51" y="51" width="1" height="23" fill="#6e6e6e"/><rect x="52" y="50" width="1" height="25" fill="#b8b8b4"/><rect x="63" y="47" width="24" height="25" fill="#2b2e37"/><rect x="63" y="47" width="24" height="1" fill="#000"/><rect x="63" y="47" width="1" height="24" fill="#000"/><rect x="64" y="70" width="23" height="1" fill="#6e6e6e"/><rect x="63" y="71" width="24" height="1" fill="#b8b8b4"/><rect x="86" y="48" width="1" height="23" fill="#8c8c8a"/><rect x="87" y="47" width="25" height="25" fill="#2b2e37"/><rect x="87" y="47" width="25" height="1" fill="#000"/><rect x="87" y="47" width="1" height="24" fill="#000"/><rect x="88" y="70" width="24" height="1" fill="#6e6e6e"/><rect x="87" y="71" width="25" height="1" fill="#b8b8b4"/><rect x="110" y="48" width="1" height="23" fill="#6e6e6e"/><rect x="111" y="47" width="1" height="25" fill="#b8b8b4"/><rect x="116" y="47" width="24" height="25" fill="url(#chk)"/><rect x="116" y="47" width="24" height="1" fill="#b8b8b4"/><rect x="116" y="47" width="1" height="25" fill="#b8b8b4"/><rect x="117" y="48" width="23" height="1" fill="#8c8c8a"/><rect x="117" y="48" width="1" height="23" fill="#8c8c8a"/><rect x="117" y="71" width="23" height="1" fill="#000"/><rect x="140" y="47" width="24" height="25" fill="#2b2e37"/><rect x="140" y="47" width="24" height="1" fill="#000"/><rect x="140" y="47" width="1" height="24" fill="#000"/><rect x="141" y="70" width="23" height="1" fill="#6e6e6e"/><rect x="140" y="71" width="24" height="1" fill="#b8b8b4"/><rect x="163" y="48" width="1" height="23" fill="#8c8c8a"/><rect x="164" y="47" width="24" height="25" fill="#2b2e37"/><rect x="164" y="47" width="24" height="1" fill="#000"/><rect x="164" y="47" width="1" height="24" fill="#000"/><rect x="165" y="70" width="23" height="1" fill="#6e6e6e"/><rect x="164" y="71" width="24" height="1" fill="#b8b8b4"/><rect x="187" y="48" width="1" height="23" fill="#8c8c8a"/><rect x="188" y="47" width="24" height="25" fill="#2b2e37"/><rect x="188" y="47" width="24" height="1" fill="#000"/><rect x="188" y="47" width="1" height="24" fill="#000"/><rect x="189" y="70" width="23" height="1" fill="#6e6e6e"/><rect x="188" y="71" width="24" height="1" fill="#b8b8b4"/><rect x="211" y="48" width="1" height="23" fill="#8c8c8a"/><rect x="212" y="47" width="24" height="25" fill="#2b2e37"/><rect x="212" y="47" width="24" height="1" fill="#000"/><rect x="212" y="47" width="1" height="24" fill="#000"/><rect x="213" y="70" width="23" height="1" fill="#6e6e6e"/><rect x="212" y="71" width="24" height="1" fill="#b8b8b4"/><rect x="235" y="48" width="1" height="23" fill="#8c8c8a"/><rect x="236" y="47" width="24" height="25" fill="#2b2e37"/><rect x="236" y="47" width="24" height="1" fill="#000"/><rect x="236" y="47" width="1" height="24" fill="#000"/><rect x="237" y="70" width="23" height="1" fill="#6e6e6e"/><rect x="236" y="71" width="24" height="1" fill="#b8b8b4"/><rect x="259" y="48" width="1" height="23" fill="#8c8c8a"/><rect x="260" y="47" width="24" height="25" fill="#2b2e37"/><rect x="260" y="47" width="24" height="1" fill="#000"/><rect x="260" y="47" width="1" height="24" fill="#000"/><rect x="261" y="70" width="23" height="1" fill="#6e6e6e"/><rect x="260" y="71" width="24" height="1" fill="#b8b8b4"/><rect x="283" y="48" width="1" height="23" fill="#8c8c8a"/><rect x="284" y="47" width="24" height="25" fill="#2b2e37"/><rect x="284" y="47" width="24" height="1" fill="#000"/><rect x="284" y="47" width="1" height="24" fill="#000"/><rect x="285" y="70" width="23" height="1" fill="#6e6e6e"/><rect x="284" y="71" width="24" height="1" fill="#b8b8b4"/><rect x="307" y="48" width="1" height="23" fill="#8c8c8a"/><rect x="308" y="47" width="24" height="25" fill="#2b2e37"/><rect x="308" y="47" width="24" height="1" fill="#000"/><rect x="308" y="47" width="1" height="24" fill="#000"/><rect x="309" y="70" width="23" height="1" fill="#6e6e6e"/><rect x="308" y="71" width="24" height="1" fill="#b8b8b4"/><rect x="331" y="48" width="1" height="23" fill="#8c8c8a"/><rect x="332" y="47" width="25" height="25" fill="#2b2e37"/><rect x="332" y="47" width="25" height="1" fill="#000"/><rect x="332" y="47" width="1" height="24" fill="#000"/><rect x="333" y="70" width="24" height="1" fill="#6e6e6e"/><rect x="332" y="71" width="25" height="1" fill="#b8b8b4"/><rect x="355" y="48" width="1" height="23" fill="#6e6e6e"/><rect x="356" y="47" width="1" height="25" fill="#b8b8b4"/><rect x="361" y="47" width="24" height="25" fill="#2b2e37"/><rect x="361" y="47" width="24" height="1" fill="#000"/><rect x="361" y="47" width="1" height="24" fill="#000"/><rect x="362" y="70" width="23" height="1" fill="#6e6e6e"/><rect x="361" y="71" width="24" height="1" fill="#b8b8b4"/><rect x="384" y="48" width="1" height="23" fill="#8c8c8a"/><rect x="385" y="47" width="25" height="25" fill="#2b2e37"/><rect x="385" y="47" width="25" height="1" fill="#000"/><rect x="385" y="47" width="1" height="24" fill="#000"/><rect x="386" y="70" width="24" height="1" fill="#6e6e6e"/><rect x="385" y="71" width="25" height="1" fill="#b8b8b4"/><rect x="408" y="48" width="1" height="23" fill="#6e6e6e"/><rect x="409" y="47" width="1" height="25" fill="#b8b8b4"/><rect x="414" y="47" width="25" height="25" fill="#2b2e37"/><rect x="414" y="47" width="25" height="1" fill="#000"/><rect x="414" y="47" width="1" height="24" fill="#000"/><rect x="415" y="70" width="24" height="1" fill="#6e6e6e"/><rect x="414" y="71" width="25" height="1" fill="#b8b8b4"/><rect x="437" y="48" width="1" height="23" fill="#6e6e6e"/><rect x="438" y="47" width="1" height="25" fill="#b8b8b4"/><rect x="439" y="47" width="25" height="25" fill="#2b2e37"/><rect x="439" y="47" width="25" height="1" fill="#000"/><rect x="439" y="47" width="1" height="24" fill="#000"/><rect x="440" y="70" width="24" height="1" fill="#6e6e6e"/><rect x="439" y="71" width="25" height="1" fill="#b8b8b4"/><rect x="462" y="48" width="1" height="23" fill="#6e6e6e"/><rect x="463" y="47" width="1" height="25" fill="#b8b8b4"/><rect x="464" y="47" width="25" height="25" fill="#2b2e37"/><rect x="464" y="47" width="25" height="1" fill="#000"/><rect x="464" y="47" width="1" height="24" fill="#000"/><rect x="465" y="70" width="24" height="1" fill="#6e6e6e"/><rect x="464" y="71" width="25" height="1" fill="#b8b8b4"/><rect x="487" y="48" width="1" height="23" fill="#6e6e6e"/><rect x="488" y="47" width="1" height="25" fill="#b8b8b4"/><rect x="494" y="50" width="13" height="22" fill="#2b2e37"/><rect x="494" y="50" width="13" height="1" fill="#000"/><rect x="494" y="50" width="1" height="21" fill="#000"/><rect x="495" y="70" width="12" height="1" fill="#6e6e6e"/><rect x="494" y="71" width="13" height="1" fill="#b8b8b4"/><rect x="505" y="51" width="1" height="20" fill="#6e6e6e"/><rect x="506" y="50" width="1" height="22" fill="#b8b8b4"/><rect x="528" y="50" width="13" height="22" fill="#2b2e37"/><rect x="528" y="50" width="13" height="1" fill="#000"/><rect x="528" y="50" width="1" height="21" fill="#000"/><rect x="529" y="70" width="12" height="1" fill="#6e6e6e"/><rect x="528" y="71" width="13" height="1" fill="#b8b8b4"/><rect x="539" y="51" width="1" height="20" fill="#6e6e6e"/><rect x="540" y="50" width="1" height="22" fill="#b8b8b4"/><rect x="507" y="47" width="21" height="13" fill="#2b2e37"/><rect x="507" y="47" width="21" height="1" fill="#000"/><rect x="507" y="47" width="1" height="12" fill="#000"/><rect x="508" y="58" width="20" height="1" fill="#6e6e6e"/><rect x="507" y="59" width="21" height="1" fill="#b8b8b4"/><rect x="526" y="48" width="1" height="11" fill="#6e6e6e"/><rect x="527" y="47" width="1" height="13" fill="#b8b8b4"/><rect x="507" y="59" width="21" height="14" fill="#2b2e37"/><rect x="507" y="59" width="21" height="1" fill="#000"/><rect x="507" y="59" width="1" height="13" fill="#000"/><rect x="508" y="71" width="20" height="1" fill="#6e6e6e"/><rect x="507" y="72" width="21" height="1" fill="#b8b8b4"/><rect x="526" y="60" width="1" height="12" fill="#6e6e6e"/><rect x="527" y="59" width="1" height="14" fill="#b8b8b4"/><g shape-rendering="auto"><path d="M10.5 57.5h5l1.5 2h6v3h-9.5l-3 5z" fill="url(#dblue)" stroke="#fff" stroke-width="1.2" stroke-linejoin="round"/><path d="M14 62.5h11.5l-3.5 5.8h-11.5z" fill="url(#dblue)" stroke="#fff" stroke-width="1.3" stroke-linejoin="round"/><rect x="34.6" y="56.6" width="13" height="13" rx="1.5" fill="#ffff00" stroke="#fff" stroke-width="1.3"/><rect x="37" y="57" width="8" height="6.5" fill="#000"/><rect x="36.5" y="63.5" width="9" height="1.6" fill="#fff"/><rect x="38" y="66.2" width="6.5" height="3.6" fill="#fff"/><rect x="39" y="67" width="2" height="2.6" fill="#ffff00"/><rect x="41.4" y="67" width="2.4" height="2.6" fill="#222"/><path d="M68.6 52.6h6l3 3v8.4h-9z" fill="#000" stroke="#fff" stroke-width="1.3" stroke-linejoin="round"/><path d="M70 57.5h4M70 59.5h4M70 61.5h4" stroke="#777" stroke-width="1"/><path d="M73.6 57.6h6l3 3v8.4h-9z" fill="url(#dotb)" stroke="#fff" stroke-width="1.3" stroke-linejoin="round"/><path d="M75.5 61.5h5.5M75.5 63.5h5.5M75.5 65.5h5.5" stroke="#8a8a8a" stroke-width="1"/><rect x="91.6" y="53.6" width="11" height="13" rx="1.2" fill="url(#chk)" stroke="#fff" stroke-width="1.3"/><rect x="94" y="51" width="6" height="2" fill="#ff0000"/><rect x="94" y="52.6" width="6" height="2.4" fill="#ffff00"/><path d="M100.6 58.6h5l3 3v7.4h-8z" fill="url(#dotb)" stroke="#fff" stroke-width="1.3" stroke-linejoin="round"/><path d="M102.5 62.5h4M102.5 64.5h4M102.5 66.5h4" stroke="#8a8a8a" stroke-width="1"/><path d="M96.5 57.5l4.5 5.5" stroke="#ffff40" stroke-width="1.8"/><path d="M102.5 65l-4-1 3-3z" fill="#ffff40"/><path d="M127 55.3v9.2l2.2-2 1.9 4.3 1.6-.7-1.9-4.2h3.1z" fill="#fff"/><circle cx="150.4" cy="57.6" r="4.7" fill="url(#chk)" stroke="#fff" stroke-width="1.5"/><path d="M148 57.6h5M150.5 55.1v5" stroke="#00ffff" stroke-width="1.3"/><path d="M154.2 61.5l6 5.6" stroke="#fff" stroke-width="2"/><path d="M153.6 61l1.6 1.6" stroke="#0000ff" stroke-width="1.6"/><circle cx="175.4" cy="57.6" r="4.7" fill="url(#chk)" stroke="#fff" stroke-width="1.5"/><path d="M173 57.6h5" stroke="#00ffff" stroke-width="1.4"/><path d="M179.2 61.5l6 5.6" stroke="#fff" stroke-width="2"/><path d="M178.6 61l1.6 1.6" stroke="#0000ff" stroke-width="1.6"/><text x="168.5" y="71.3" font-family="Liberation Sans, sans-serif" font-weight="bold" font-size="8.4" fill="#fff" textLength="18" lengthAdjust="spacingAndGlyphs">100%</text></g><rect x="194" y="55" width="1" height="1" fill="#8a8a8a"/><rect x="195" y="56" width="1" height="1" fill="#000"/><rect x="194" y="59" width="1" height="1" fill="#8a8a8a"/><rect x="195" y="60" width="1" height="1" fill="#000"/><rect x="194" y="63" width="1" height="1" fill="#8a8a8a"/><rect x="195" y="64" width="1" height="1" fill="#000"/><rect x="198" y="55" width="1" height="1" fill="#8a8a8a"/><rect x="199" y="56" width="1" height="1" fill="#000"/><rect x="198" y="59" width="1" height="1" fill="#8a8a8a"/><rect x="199" y="60" width="1" height="1" fill="#000"/><rect x="198" y="63" width="1" height="1" fill="#8a8a8a"/><rect x="199" y="64" width="1" height="1" fill="#000"/><rect x="202" y="55" width="1" height="1" fill="#8a8a8a"/><rect x="203" y="56" width="1" height="1" fill="#000"/><rect x="202" y="59" width="1" height="1" fill="#8a8a8a"/><rect x="203" y="60" width="1" height="1" fill="#000"/><rect x="202" y="63" width="1" height="1" fill="#8a8a8a"/><rect x="203" y="64" width="1" height="1" fill="#000"/><rect x="206" y="55" width="1" height="1" fill="#8a8a8a"/><rect x="207" y="56" width="1" height="1" fill="#000"/><rect x="206" y="59" width="1" height="1" fill="#8a8a8a"/><rect x="207" y="60" width="1" height="1" fill="#000"/><rect x="206" y="63" width="1" height="1" fill="#8a8a8a"/><rect x="207" y="64" width="1" height="1" fill="#000"/><g shape-rendering="auto"><path d="M219 54h12.400v4.600h-2v-2h-2.700v7.400h2.300v2.400h-7.600v-2.400h2.300v-7.400h-2.700v2h-2z" fill="#fff"/><path d="M239 56.5l2 2.2h3l7-7h3l4 3.5" fill="none" stroke="#fff" stroke-width="1.2"/><path d="M248.5 71v-8.5l5.5-7" fill="none" stroke="#fff" stroke-width="1.2"/><path d="M255.5 52.5l-3.8 2.2 2.6 2z" fill="#fff"/><path d="M239 63.5h9" stroke="#fff" stroke-width="1.2"/><path d="M240.5 66h5M243 66v4.5M241.5 70.5h3" stroke="#fff" stroke-width="1.2" fill="none"/><path d="M263 56.5l2 2.2h3l7-7h3l4 3.5" fill="none" stroke="#fff" stroke-width="1.2"/><path d="M272.5 71v-9.5l5.5-6" fill="none" stroke="#fff" stroke-width="1.2"/><path d="M279.5 52.5l-3.8 2.2 2.6 2z" fill="#fff"/><path d="M263 62.5h9" stroke="#fff" stroke-width="1.2"/><text x="263.800" y="71.300" font-family="Liberation Sans, sans-serif" font-weight="bold" font-size="10" fill="#fff">?</text><path d="M287 56.5l2 2.2h3l7-7h3l4 3.5" fill="none" stroke="#fff" stroke-width="1.2"/><path d="M294.5 71v-9.5h12.5" fill="none" stroke="#fff" stroke-width="1.2"/><path d="M296 64.5h6" stroke="#60ffff" stroke-width="1.2"/><path d="M296 67.5h6" stroke="#ff80ff" stroke-width="1.2"/><path d="M304 63.5l2 2M306 63.5l-2 2M304 67l2 2M306 67l-2 2" stroke="#fff" stroke-width="1"/><path d="M313 56.2l16 7.6" stroke="#fff" stroke-width="1.2"/><circle cx="344.4" cy="60.4" r="7.1" fill="none" stroke="#fff" stroke-width="1.3"/><path d="M364 55.2l20 13.8" stroke="#fff" stroke-width="1.1"/><path d="M364 62.5h20M374.5 58v12" stroke="#00ffff" stroke-width="1.2"/><text x="374.5" y="56.7" text-anchor="middle" font-family="Liberation Sans, sans-serif" font-size="10" fill="#00ffff">a</text><path d="M388 55.2l20 13.8" stroke="#fff" stroke-width="1.1"/><path d="M388 62.5h20M398.5 59v11" stroke="#ffff00" stroke-width="1.2"/><text x="398.5" y="57.7" text-anchor="middle" font-family="Liberation Sans, sans-serif" font-size="10.5" fill="#ffff00">b</text><path d="M417 53h8M421 49v8" stroke="#00ffff" stroke-width="2"/><path d="M417 61.5l2 1.2h3l7-8.2h3l4 4.2" fill="none" stroke="#ff80ff" stroke-width="1.2"/><path d="M417 64.5l2 1.2h3l7-8.2h3l4 4.2" fill="none" stroke="#80ffff" stroke-width="1.2"/><path d="M417 67.5l2 1.2h3l7-8.2h3l4 4.2" fill="none" stroke="#ffff00" stroke-width="1.2"/><path d="M442 53h8M446 49v8" stroke="#00ffff" stroke-width="2"/><path d="M445.200 67.800l1.600-2.600 6-6" stroke="#fff" stroke-width="2.300" fill="none"/><path d="M447.300 65.300l5.400-5.400" stroke="#000" stroke-width="0.900"/><path d="M452.400 58l2.800 2.800" stroke="#fff" stroke-width="2.200" stroke-linecap="round"/><path d="M454 59l4.600-4.600" stroke="#fff" stroke-width="3.800" stroke-linecap="round"/><path d="M470 54.2l12 5.6-12 5.8z" fill="#ff00ff"/><path d="M497.8 60.5l5.4-4.7v9.4z" fill="#fff"/><path d="M537.6 60.5l-5.4-4.7v9.4z" fill="#fff"/><path d="M517.5 50.8l4.8 5h-9.6z" fill="#fff"/><path d="M517.5 68.4l4.8-5h-9.6z" fill="#fff"/></g><g shape-rendering="auto"><circle cx="1258.300" cy="8.300" r="7.300" fill="#f2d425"/><circle cx="1264.600" cy="15" r="7.300" fill="#f2d425"/><circle cx="1261.400" cy="11.600" r="9.600" fill="#f2d425"/><path d="M1263 5.5c-3 2-3.500 6-1 9 1.500 2 1.500 3.500 0.500 4.500" fill="none" stroke="#fff" stroke-width="2" stroke-linecap="round"/><circle cx="1266.4" cy="6.6" r="3.8" fill="#f07000"/><circle cx="1266.4" cy="6.6" r="3.8" fill="none" stroke="#ffb060" stroke-width="0.6"/><text x="1266.4" y="8.8" text-anchor="middle" font-family="Liberation Sans, sans-serif" font-size="6" font-weight="bold" fill="#5a2800">4</text><defs><radialGradient id="disc" cx="0.5" cy="0.5" r="0.5"><stop offset="0" stop-color="#f4f4f4"/><stop offset="0.75" stop-color="#b9b9b9"/><stop offset="1" stop-color="#8d8d8d"/></radialGradient></defs><circle cx="1292.9" cy="11.4" r="10.500" fill="#b3952a"/><circle cx="1292.9" cy="11.4" r="8.200" fill="url(#disc)"/><path d="M1315.93 11.14A12.2 12.2 0 0 1 1334.07 11.14" fill="none" stroke="#dfdbd2" stroke-width="1.7" opacity="0.55"/><path d="M1318.76 13.68A8.4 8.4 0 0 1 1331.24 13.68" fill="none" stroke="#dfdbd2" stroke-width="1.7" opacity="0.9"/><path d="M1321.58 16.22A4.6 4.6 0 0 1 1328.42 16.22" fill="none" stroke="#dfdbd2" stroke-width="1.7" opacity="0.9"/><circle cx="1325" cy="17.800" r="1.500" fill="#dfdbd2"/><rect x="1347" y="2" width="20" height="20" rx="2.5" fill="#dfdbd2"/><text x="1357" y="16.5" text-anchor="middle" font-family="Liberation Sans, sans-serif" font-size="12.5" fill="#3c3b37">En</text><path d="M1379 8l7.500 7.500-3.800 4v-15l3.800 4-7.500 7.500" fill="none" stroke="#dfdbd2" stroke-width="1.3" stroke-linejoin="round"/><rect x="1401" y="6.200" width="18" height="12" rx="1" fill="#dfdbd2"/><path d="M1402.500 7.500l7.500 6 7.500-6M1402.500 17l5.500-5M1417.500 17l-5.500-5" fill="none" stroke="#3c3b37" stroke-width="1.1"/><rect x="1433.600" y="5.600" width="21" height="12" rx="2" fill="none" stroke="#dfdbd2" stroke-width="1.300"/><rect x="1455.200" y="9" width="2" height="5.500" rx="0.800" fill="#dfdbd2"/><rect x="1435.500" y="7.500" width="17.200" height="8.200" fill="#8f8c84"/><path d="M1438.500 8.600l7.500 3.600-2.300 0.700 6 3-8.600-2.300 2.600-0.900z" fill="#dfdbd2"/><path d="M1469 9.500h3.500l4.500-4v13l-4.500-4h-3.500z" fill="#dfdbd2"/><path d="M1480.17 8.94A4.4 4.4 0 0 1 1480.17 15.06" fill="none" stroke="#dfdbd2" stroke-width="1.500" opacity="1"/><path d="M1482.75 6.44A8 8 0 0 1 1482.75 17.56" fill="none" stroke="#dfdbd2" stroke-width="1.500" opacity="0.95"/><path d="M1485.34 3.94A11.6 11.6 0 0 1 1485.34 20.06" fill="none" stroke="#dfdbd2" stroke-width="1.500" opacity="0.9"/><rect x="1582.20" y="4.00" width="3" height="3.400" fill="#dfdbd2" transform="rotate(22.5 1583.7 12.3)"/><rect x="1582.20" y="4.00" width="3" height="3.400" fill="#dfdbd2" transform="rotate(67.5 1583.7 12.3)"/><rect x="1582.20" y="4.00" width="3" height="3.400" fill="#dfdbd2" transform="rotate(112.5 1583.7 12.3)"/><rect x="1582.20" y="4.00" width="3" height="3.400" fill="#dfdbd2" transform="rotate(157.5 1583.7 12.3)"/><rect x="1582.20" y="4.00" width="3" height="3.400" fill="#dfdbd2" transform="rotate(202.5 1583.7 12.3)"/><rect x="1582.20" y="4.00" width="3" height="3.400" fill="#dfdbd2" transform="rotate(247.5 1583.7 12.3)"/><rect x="1582.20" y="4.00" width="3" height="3.400" fill="#dfdbd2" transform="rotate(292.5 1583.7 12.3)"/><rect x="1582.20" y="4.00" width="3" height="3.400" fill="#dfdbd2" transform="rotate(337.5 1583.7 12.3)"/><circle cx="1583.7" cy="12.3" r="5" fill="none" stroke="#dfdbd2" stroke-width="2.400"/><rect x="1581.4" y="2.500" width="4.600" height="8" fill="#4a4842"/><rect x="1582.7" y="3.500" width="2" height="8" rx="1" fill="#dfdbd2"/></g></svg><div id="status" class="abs"></div><div id="tab" class="abs"></div><div id="tabt" class="abs">TR result1</div><div id="sk" class="abs"></div><div id="skh" class="abs"></div><div id="skb" class="abs"></div><div id="skt" class="abs"><b>Lamont S. Henderson, Monty</b> has appeared online</div><svg class="abs" style="left:1331px;top:812px" width="269" height="88" viewBox="1331 812 269 88"><circle cx="1586" cy="824.500" r="8" fill="#000"/><path d="M1583.200 821.700l5.600 5.600M1588.800 821.700l-5.600 5.600" stroke="#fff" stroke-width="2"/><path d="M1338 819c1-2 4-2.500 7-2 3 0 6 1 7 3 1.500 2 1.500 5 0.500 7.500 0 2-2 3.500-4.500 3.500-3 1-6 0.500-8-1-2-1.500-2.500-4-2-6-0.800-2-0.800-4 0-5z" fill="#a040d0" stroke="#c060e8" stroke-width="0.800"/><rect x="1339.500" y="821" width="9" height="6.500" rx="1.500" fill="#000"/><path d="M1341.500 824l2 2 4-4.500" fill="none" stroke="#a040d0" stroke-width="1.300"/><text x="1356" y="828.700" font-family="Liberation Sans, sans-serif" font-weight="bold" font-size="13.500" fill="#007aff" stroke="#000" stroke-width="3.400" stroke-linejoin="round" letter-spacing="-1.100">skype</text><text x="1356" y="828.700" font-family="Liberation Sans, sans-serif" font-weight="bold" font-size="13.500" fill="#0a84ff" letter-spacing="-1.100">skype</text><circle cx="1448.300" cy="873.500" r="13.500" fill="#8244f0"/><circle cx="1481.400" cy="873.500" r="13.500" fill="#ff5410"/><path d="M1444.200 869.200c1.200-1 2-0.600 2.400 0.400l0.600 1.600c0.200 0.600 0 1-0.600 1.400 0.600 1.600 1.800 2.800 3.400 3.600 0.400-0.600 0.900-0.800 1.500-0.500l1.500 0.800c0.900 0.500 1.100 1.300 0.200 2.300-1.200 1.200-3 0.800-5.200-0.800-2.400-1.800-4.200-4.200-4.500-6.300-0.200-1 0-1.900 0.700-2.500z" fill="#000"/><path d="M1477.500 868.800h8a2 2 0 0 1 2 2v3.600a2 2 0 0 1-2 2h-2.300l-2.200 2.600v-2.600h-3.500a2 2 0 0 1-2-2v-3.600a2 2 0 0 1 2-2z" fill="#000"/><path d="M1478 871.300h7M1478 873.700h4.500" stroke="#ff5410" stroke-width="1.200"/></svg></body></html>
